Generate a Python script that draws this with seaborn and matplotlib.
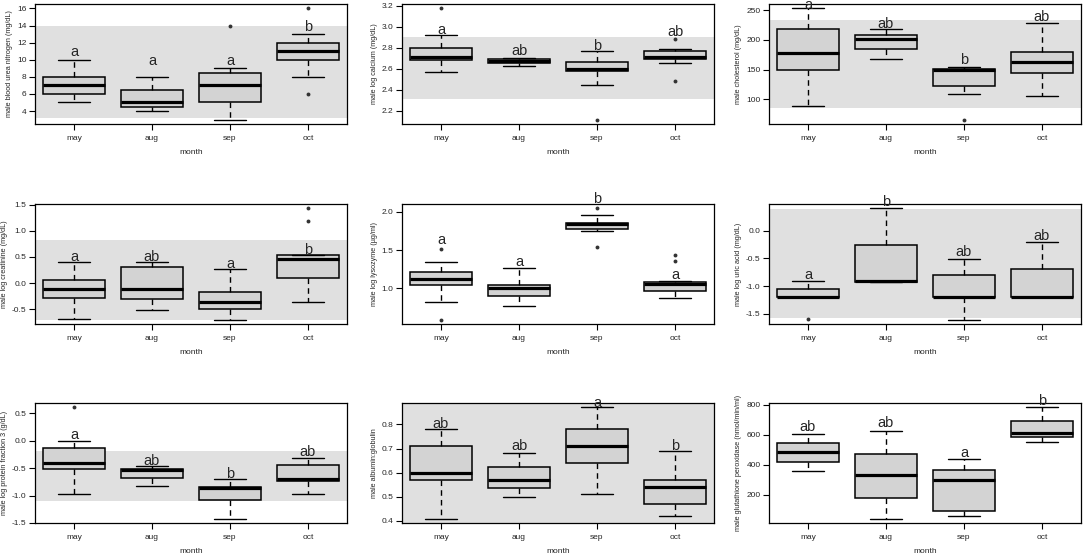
"""Male blood chemistry by month: 3x3 grid of R-style boxplots."""

import matplotlib

matplotlib.use("Agg")
import matplotlib.pyplot as plt
import pandas as pd
import seaborn as sns

sns.set_theme(style="white")
plt.rcParams["font.family"] = ["Liberation Sans", "DejaVu Sans"]
plt.rcParams["axes.unicode_minus"] = False

MONTHS = ["may", "aug", "sep", "oct"]

# each box: [lower whisker, q1, median, q3, upper whisker]
BUN_BOX = [[5, 6, 7, 8, 10], [4, 4.5, 5, 6.5, 8], [3, 5, 7, 8.5, 9], [8, 10, 11, 12, 13]]
BUN_OUT = [[], [], [14], [6, 16]]
BUN_LETTERS = ["a", "a", "a", "b"]
BUN_LETTER_Y = [10.9, 9.85, 9.8, 13.8]
BUN_BAND = (3.2, 14.0)
BUN_TICKS = [4, 6, 8, 10, 12, 14, 16]

CA_BOX = [[2.57, 2.685, 2.715, 2.80, 2.925], [2.625, 2.655, 2.675, 2.695, 2.70],
          [2.44, 2.575, 2.60, 2.66, 2.77], [2.65, 2.695, 2.715, 2.77, 2.785]]
CA_OUT = [[3.175], [], [2.115], [2.88, 2.48]]
CA_LETTERS = ["a", "ab", "b", "ab"]
CA_LETTER_Y = [2.965, 2.765, 2.82, 2.955]
CA_BAND = (2.315, 2.90)
CA_TICKS = [2.2, 2.4, 2.6, 2.8, 3.0, 3.2]

CHOL_BOX = [[88, 149, 178, 218, 253], [168, 184, 201, 209, 219],
            [109, 122, 149, 151, 155], [106, 145, 163, 179, 228]]
CHOL_OUT = [[], [], [66], []]
CHOL_LETTERS = ["a", "ab", "b", "ab"]
CHOL_LETTER_Y = [259, 227, 166, 238]
CHOL_BAND = (85, 233)
CHOL_TICKS = [100, 150, 200, 250]

CREAT_BOX = [[-0.69, -0.28, -0.11, 0.05, 0.41], [-0.51, -0.31, -0.11, 0.30, 0.41],
             [-0.70, -0.50, -0.36, -0.17, 0.26], [-0.36, 0.09, 0.46, 0.53, 0.53]]
CREAT_OUT = [[], [], [], [1.19, 1.43]]
CREAT_LETTERS = ["a", "ab", "a", "b"]
CREAT_LETTER_Y = [0.50, 0.49, 0.37, 0.63]
CREAT_BAND = (-0.71, 0.82)
CREAT_TICKS = [-0.5, 0.0, 0.5, 1.0, 1.5]

LYSO_BOX = [[0.82, 1.04, 1.12, 1.21, 1.34], [0.77, 0.90, 1.00, 1.04, 1.26],
            [1.745, 1.775, 1.84, 1.86, 1.955], [0.87, 0.97, 1.05, 1.08, 1.09]]
LYSO_OUT = [[1.51, 0.59], [], [2.045, 1.54], [1.36, 1.44]]
LYSO_LETTERS = ["a", "a", "b", "a"]
LYSO_LETTER_Y = [1.63, 1.35, 2.17, 1.17]
LYSO_BAND = None
LYSO_TICKS = [1.0, 1.5, 2.0]

URIC_BOX = [[-1.2, -1.2, -1.2, -1.05, -0.90], [-0.915, -0.915, -0.905, -0.25, 0.40],
            [-1.6, -1.2, -1.2, -0.80, -0.505], [-1.2, -1.2, -1.2, -0.69, -0.205]]
URIC_OUT = [[-1.585], [], [], []]
URIC_LETTERS = ["a", "b", "ab", "ab"]
URIC_LETTER_Y = [-0.80, 0.51, -0.385, -0.09]
URIC_BAND = (-1.58, 0.39)
URIC_TICKS = [-1.5, -1.0, -0.5, 0.0]

PROT_BOX = [[-0.97, -0.52, -0.40, -0.14, 0.0], [-0.82, -0.68, -0.53, -0.51, -0.46],
            [-1.42, -1.09, -0.86, -0.85, -0.70], [-0.97, -0.74, -0.69, -0.45, -0.31]]
PROT_OUT = [[0.61], [], [], []]
PROT_LETTERS = ["a", "ab", "b", "ab"]
PROT_LETTER_Y = [0.10, -0.36, -0.60, -0.20]
PROT_BAND = (-1.10, -0.19)
PROT_TICKS = [-1.5, -1.0, -0.5, 0.0, 0.5]

AG_BOX = [[0.41, 0.57, 0.60, 0.71, 0.78], [0.50, 0.535, 0.57, 0.625, 0.68],
          [0.51, 0.64, 0.71, 0.78, 0.87], [0.42, 0.47, 0.54, 0.57, 0.69]]
AG_OUT = [[], [], [], []]
AG_LETTERS = ["ab", "ab", "a", "b"]
AG_LETTER_Y = [0.80, 0.71, 0.89, 0.71]
AG_BAND = (0.30, 1.00)
AG_TICKS = [0.4, 0.5, 0.6, 0.7, 0.8]

GPX_BOX = [[357, 420, 483, 544, 607], [43, 178, 331, 474, 625],
           [58, 96, 302, 369, 438], [554, 583, 610, 690, 782]]
GPX_OUT = [[], [], [], []]
GPX_LETTERS = ["ab", "ab", "a", "b"]
GPX_LETTER_Y = [655, 677, 480, 822]
GPX_BAND = None
GPX_TICKS = [200, 400, 600, 800]

PANELS = [
    (BUN_BOX, BUN_OUT, BUN_LETTERS, BUN_LETTER_Y, BUN_BAND, BUN_TICKS, "%d",
     "male blood urea nitrogen (mg/dL)"),
    (CA_BOX, CA_OUT, CA_LETTERS, CA_LETTER_Y, CA_BAND, CA_TICKS, "%.1f",
     "male log calcium (mg/dL)"),
    (CHOL_BOX, CHOL_OUT, CHOL_LETTERS, CHOL_LETTER_Y, CHOL_BAND, CHOL_TICKS, "%d",
     "male cholesterol (mg/dL)"),
    (CREAT_BOX, CREAT_OUT, CREAT_LETTERS, CREAT_LETTER_Y, CREAT_BAND, CREAT_TICKS, "%.1f",
     "male log creatinine (mg/dL)"),
    (LYSO_BOX, LYSO_OUT, LYSO_LETTERS, LYSO_LETTER_Y, LYSO_BAND, LYSO_TICKS, "%.1f",
     "male log lysozyme (\u00b5g/ml)"),
    (URIC_BOX, URIC_OUT, URIC_LETTERS, URIC_LETTER_Y, URIC_BAND, URIC_TICKS, "%.1f",
     "male log uric acid (mg/dL)"),
    (PROT_BOX, PROT_OUT, PROT_LETTERS, PROT_LETTER_Y, PROT_BAND, PROT_TICKS, "%.1f",
     "male log protein fraction 3 (g/dL)"),
    (AG_BOX, AG_OUT, AG_LETTERS, AG_LETTER_Y, AG_BAND, AG_TICKS, "%.1f",
     "male albumin:globulin"),
    (GPX_BOX, GPX_OUT, GPX_LETTERS, GPX_LETTER_Y, GPX_BAND, GPX_TICKS, "%d",
     "male glutathione peroxidase (nmol/min/ml)"),
]

W, H = 1084, 557
COL_LEFT = [35, 402, 769]
ROW_TOP = [4, 204, 403]
AX_W, AX_H = 312, 120


def draw_panel(ax, boxes, outliers, letters, letter_y, band, ticks, fmt, ylabel):
    box_df = pd.DataFrame(
        [(m, v) for m, vals in zip(MONTHS, boxes) for v in vals], columns=["month", "value"]
    )
    out_df = pd.DataFrame(
        [(m, v) for m, vals in zip(MONTHS, outliers) for v in vals], columns=["month", "value"]
    )

    if band is not None:
        ax.axhspan(band[0], band[1], color="#e0e0e0", lw=0, zorder=0)

    sns.boxplot(
        data=box_df, x="month", y="value", order=MONTHS, whis=(0, 100), width=0.8,
        color="#d3d3d3", saturation=1, linecolor="black", linewidth=1.1,
        showfliers=False, ax=ax,
        medianprops=dict(color="black", linewidth=2.3),
        whiskerprops=dict(color="black", linewidth=1, linestyle=(0, (4, 3))),
        capprops=dict(color="black", linewidth=1),
    )
    if len(out_df):
        sns.stripplot(
            data=out_df, x="month", y="value", order=MONTHS, jitter=False,
            color="#333333", size=2.8, linewidth=0, ax=ax,
        )

    for i, (lab, y) in enumerate(zip(letters, letter_y)):
        ax.text(i, y, lab, ha="center", va="center", fontsize=10.5, clip_on=False)

    # R-style limits: data range padded by 4 %
    vals = box_df["value"].tolist() + out_df["value"].tolist()
    lo, hi = min(vals), max(vals)
    pad = (hi - lo) * 0.04
    ax.set_ylim(lo - pad, hi + pad)
    ax.set_xlim(-0.5, 3.5)

    ax.set_yticks(ticks)
    ax.set_yticklabels([fmt % t for t in ticks])
    ax.set_xticks(range(len(MONTHS)))
    ax.set_xticklabels(MONTHS)
    ax.tick_params(direction="out", length=4, width=0.8, color="black",
                   labelsize=6, pad=2, bottom=True, left=True)
    ax.tick_params(axis="x", pad=4)
    ax.set_xlabel("month", fontsize=6, labelpad=5)
    ax.set_ylabel(ylabel, fontsize=5.2, labelpad=3)
    for sp in ax.spines.values():
        sp.set_color("black")
        sp.set_linewidth(0.9)
        sp.set_visible(True)
    ax.grid(False)
    ax.set_facecolor("white")


fig = plt.figure(figsize=(W / 100, H / 100), dpi=100)
for k, panel in enumerate(PANELS):
    r, c = divmod(k, 3)
    ax = fig.add_axes([COL_LEFT[c] / W, 1 - (ROW_TOP[r] + AX_H) / H, AX_W / W, AX_H / H])
    draw_panel(ax, *panel)

fig.savefig("out.png", dpi=100)
